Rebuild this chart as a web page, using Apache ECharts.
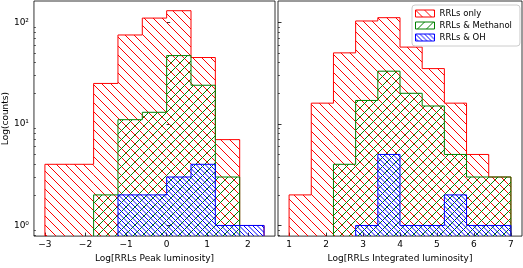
<!DOCTYPE html>
<html><head><meta charset="utf-8">
<script src="https://cdn.jsdelivr.net/npm/echarts@6/dist/echarts.min.js"></script>
<style>html,body{margin:0;padding:0;background:#fff}#c{width:523px;height:268px}</style>
</head><body><div id="c"></div>
<script>
// ---- data ----
const peakEdges = [-3, -2.4, -1.8, -1.2, -0.6, 0, 0.6, 1.2, 1.8, 2.4];
const peakOnly = [4, 4, 25, 75, 110, 130, 45, 7, 1];
const peakMeth = [0, 0, 2, 11, 13, 47, 24, 3, 0];
const peakOH   = [0, 0, 0, 2, 2, 3, 4, 1, 1];

const intEdges = [1, 1.6, 2.2, 2.8, 3.4, 4.0, 4.6, 5.2, 5.8, 6.4, 7.0];
const intOnly = [2, 16, 50, 103, 111, 57, 35, 16, 5, 3];
const intMeth = [0, 0, 4, 17, 33, 20, 15, 5, 3, 3];
const intOH   = [0, 0, 0, 1, 5, 1, 1, 2, 1, 1];

const seriesNames = ['RRLs only', 'RRLs & Methanol', 'RRLs & OH'];
const peakTicks = [-3, -2, -1, 0, 1, 2];
const intTicks = [1, 2, 3, 4, 5, 6, 7];
const yMajor = [1, 10, 100];
const yMinor = [0.8, 0.9, 2, 3, 4, 5, 6, 7, 8, 9, 20, 30, 40, 50, 60, 70, 80, 90];

// ---- styles ----
const FONT = 'DejaVu Sans';
const BASE = 0.5;
const YMIN = 0.786, YMAX = 162;

function hatch(color, n, dir) {
  const T = 9;
  const c = document.createElement('canvas');
  c.width = T; c.height = T;
  const g = c.getContext('2d');
  g.strokeStyle = color; g.lineWidth = 1;
  if (dir === '/') { g.translate(T, 0); g.scale(-1, 1); }
  g.beginPath();
  for (let o = -T; o < T + 0.01; o += T / n) { g.moveTo(o, 0); g.lineTo(o + T, T); }
  g.stroke();
  return { image: c, repeat: 'repeat' };
}
const styles = [
  { color: '#ff0000', pat: hatch('#ff0000', 1, '\\') },
  { color: '#008000', pat: hatch('#008000', 1, '/') },
  { color: '#0000ff', pat: hatch('#0000ff', 2, '\\') }
];

function renderItem(st) {
  return function (params, api) {
    const x0 = api.value(0), x1 = api.value(1), c = api.value(2);
    const idx = params.dataIndexInside, n = params.dataInsideLength;
    const prev = idx > 0 ? api.value(2, idx - 1) : 0;
    const yv = c > 0 ? c : BASE, yp = prev > 0 ? prev : BASE;
    const pP = api.coord([x0, yp]), pTL = api.coord([x0, yv]), pTR = api.coord([x1, yv]);
    const pBL = api.coord([x0, BASE]), pBR = api.coord([x1, BASE]);
    const pts = [pP, pTL, pTR];
    if (idx === n - 1) pts.push(pBR);
    const cs = params.coordSys;
    const children = [];
    if (c > 0) {
      children.push({ type: 'rect', shape: { x: pTL[0], y: pTL[1], width: pTR[0] - pTL[0], height: pBL[1] - pTL[1] },
        style: { fill: st.pat, stroke: null } });
    }
    children.push({ type: 'polyline', shape: { points: pts }, style: { fill: null, stroke: st.color, lineWidth: 1 } });
    return { type: 'group', children: children,
      clipPath: { type: 'rect', shape: { x: cs.x, y: cs.y, width: cs.width, height: cs.height } } };
  };
}

function mkSeries(edges, counts, k, gi) {
  return {
    type: 'custom', name: seriesNames[k], xAxisIndex: gi, yAxisIndex: gi * 2,
    renderItem: renderItem(styles[k]),
    itemStyle: { color: styles[k].pat, borderColor: styles[k].color, borderWidth: 1 },
    encode: { x: [0, 1], y: 2 },
    data: counts.map((c, i) => [edges[i], edges[i + 1], c]),
    z: 2 + k, silent: true, animation: false
  };
}

const fmtMinus = v => String(v).replace('-', '\u2212');
const sup = ['\u2070', '\u00b9', '\u00b2', '\u00b3'];
const fmtPow = v => '10' + sup[Math.round(Math.log10(v))];

function xAxis(gi, min, max, ticks, name) {
  return {
    type: 'value', gridIndex: gi, min: min, max: max,
    name: name, nameLocation: 'middle', nameGap: 14,
    nameTextStyle: { fontFamily: FONT, fontSize: 9, color: '#000', verticalAlign: 'top' },
    axisLine: { show: false },
    axisTick: { show: true, inside: true, length: 3.5, customValues: ticks, lineStyle: { color: '#000', width: 0.8 } },
    axisLabel: { show: true, customValues: ticks, formatter: fmtMinus, margin: 4, fontFamily: FONT, fontSize: 9, color: '#000' },
    splitLine: { show: false }
  };
}
function yAxes(gi, showLabels) {
  return [{
    type: 'log', logBase: 10, gridIndex: gi, min: YMIN, max: YMAX,
    name: showLabels ? 'Log(counts)' : '', nameLocation: 'middle', nameGap: 18,
    nameTextStyle: { fontFamily: FONT, fontSize: 9, color: '#000' },
    axisLine: { show: false },
    axisTick: { show: true, inside: true, length: 3.5, customValues: yMajor, lineStyle: { color: '#000', width: 0.8 } },
    axisLabel: { show: showLabels, customValues: yMajor, formatter: fmtPow, margin: 5, fontFamily: FONT, fontSize: 9, color: '#000' },
    splitLine: { show: false }
  }, {
    type: 'log', logBase: 10, gridIndex: gi, min: YMIN, max: YMAX, position: 'left',
    axisLine: { show: false },
    axisTick: { show: true, inside: true, length: 2, customValues: yMinor, lineStyle: { color: '#000', width: 0.6 } },
    axisLabel: { show: false }, splitLine: { show: false }
  }];
}

const chart = echarts.init(document.getElementById('c'), null, { renderer: 'canvas' });
chart.setOption({
  animation: false,
  backgroundColor: '#fff',
  grid: [
    { left: 31, top: 1, width: 244, height: 243, show: true, borderColor: '#000', borderWidth: 0.8, backgroundColor: 'transparent' },
    { left: 278, top: 1, width: 244, height: 243, show: true, borderColor: '#000', borderWidth: 0.8, backgroundColor: 'transparent' }
  ],
  xAxis: [
    xAxis(0, -3.27, 2.67, peakTicks, 'Log[RRLs Peak luminosity]'),
    xAxis(1, 0.7, 7.3, intTicks, 'Log[RRLs Integrated luminosity]')
  ],
  yAxis: [].concat(yAxes(0, true), yAxes(1, false)),
  legend: {
    orient: 'vertical', left: 412, top: 5, align: 'left',
    backgroundColor: 'rgba(255,255,255,0.8)', borderColor: '#ccc', borderWidth: 1, borderRadius: 3,
    padding: [4, 8, 4, 3], itemGap: 3, itemWidth: 19, itemHeight: 7,
    textStyle: { fontFamily: FONT, fontSize: 8.5, color: '#000', padding: [0, 0, 0, 0] },
    selectedMode: false,
    data: seriesNames.map((nm, k) => ({ name: nm, icon: 'rect',
      itemStyle: { color: styles[k].pat, borderColor: styles[k].color, borderWidth: 1 } }))
  },
  series: [
    mkSeries(peakEdges, peakOnly, 0, 0), mkSeries(peakEdges, peakMeth, 1, 0), mkSeries(peakEdges, peakOH, 2, 0),
    mkSeries(intEdges, intOnly, 0, 1), mkSeries(intEdges, intMeth, 1, 1), mkSeries(intEdges, intOH, 2, 1)
  ]
});
</script></body></html>
